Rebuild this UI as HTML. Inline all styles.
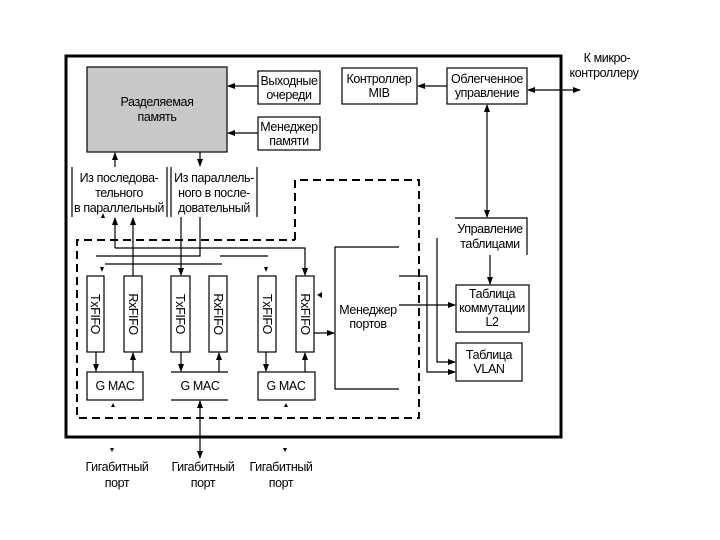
<!DOCTYPE html>
<html><head><meta charset="utf-8"><style>
html,body{margin:0;padding:0;background:#fff;}
svg{display:block;}
text{font-family:"Liberation Sans Narrow","Liberation Sans",sans-serif;font-size:12.5px;letter-spacing:-0.4px;fill:#000;text-anchor:middle;}
</style></head><body>
<svg width="720" height="540" viewBox="0 0 720 540" xmlns="http://www.w3.org/2000/svg">
<defs>
<marker id="a" markerWidth="8" markerHeight="6" refX="7" refY="3" orient="auto" markerUnits="userSpaceOnUse"><path d="M0,0 L8,3 L0,6z" fill="#000"/></marker>
<marker id="s" markerWidth="8" markerHeight="6" refX="1" refY="3" orient="auto" markerUnits="userSpaceOnUse"><path d="M8,0 L0,3 L8,6z" fill="#000"/></marker>
</defs>
<g fill="none" stroke="#000" stroke-width="1.2">
<rect x="66" y="56" width="495" height="381" stroke-width="3"/>
<rect x="87" y="67" width="140" height="85" fill="#c8c8c8"/>
<rect x="258" y="71" width="62" height="33"/>
<rect x="258" y="117" width="62" height="33"/>
<rect x="342" y="68" width="75" height="36"/>
<rect x="447" y="68" width="80" height="36"/>
<rect x="456" y="285" width="73" height="47"/>
<rect x="456" y="343" width="66" height="38"/>
<path d="M295,240 L295,180 L419,180 L419,418 L77,418 L77,240 L295,240" stroke-width="2" stroke-dasharray="8,5"/>
<line x1="258" y1="86" x2="228" y2="86" marker-end="url(#a)"/>
<line x1="258" y1="133" x2="228" y2="133" marker-end="url(#a)"/>
<line x1="447" y1="86" x2="418" y2="86" marker-end="url(#a)"/>
<line x1="528" y1="90" x2="580" y2="90" marker-start="url(#s)" marker-end="url(#a)"/>
<line x1="487" y1="105" x2="487" y2="217" marker-start="url(#s)" marker-end="url(#a)"/>
<path d="M455,218 L527,218 L527,255"/>
<line x1="490" y1="255" x2="490" y2="284" marker-end="url(#a)"/>
<path d="M437,238 L437,362 L455,362" marker-end="url(#a)"/>
<path d="M399,276 L427,276 L427,372 L455,372" marker-end="url(#a)"/>
<line x1="399" y1="305" x2="455" y2="305" marker-end="url(#a)"/>
<path d="M399,247 L335,247 L335,389 L399,389"/>
<line x1="72" y1="167" x2="72" y2="217"/><line x1="167" y1="167" x2="167" y2="217"/>
<line x1="171" y1="167" x2="171" y2="217"/><line x1="257" y1="167" x2="257" y2="217"/>
<line x1="115" y1="167" x2="115" y2="153" marker-end="url(#a)"/>
<line x1="200" y1="152" x2="200" y2="166" marker-end="url(#a)"/>
<line x1="115" y1="248" x2="115" y2="218" marker-end="url(#a)"/>
<path d="M115,248 L305,248 L305,275" marker-end="url(#a)"/>
<line x1="133" y1="276" x2="133" y2="218" marker-end="url(#a)"/>
<line x1="181" y1="217" x2="181" y2="275" marker-end="url(#a)"/>
<path d="M200,217 L200,256 L96,256"/>
<line x1="105" y1="264" x2="222" y2="264"/>
<line x1="220" y1="256" x2="268" y2="256"/>
<rect x="87" y="276" width="17" height="76"/>
<rect x="124" y="276" width="18" height="76"/>
<rect x="171" y="276" width="19" height="76"/>
<rect x="209" y="276" width="18" height="76"/>
<rect x="258" y="276" width="18" height="76"/>
<rect x="296" y="276" width="18" height="76"/>
<rect x="87" y="372" width="56" height="28"/>
<line x1="171" y1="372" x2="228" y2="372"/><line x1="171" y1="400" x2="228" y2="400"/>
<rect x="258" y="372" width="57" height="28"/>
<line x1="96" y1="352" x2="96" y2="371" marker-end="url(#a)"/>
<line x1="133" y1="372" x2="133" y2="353" marker-end="url(#a)"/>
<line x1="181" y1="352" x2="181" y2="371" marker-end="url(#a)"/>
<line x1="219" y1="372" x2="219" y2="353" marker-end="url(#a)"/>
<line x1="266" y1="352" x2="266" y2="371" marker-end="url(#a)"/>
<line x1="305" y1="372" x2="305" y2="353" marker-end="url(#a)"/>
<line x1="314" y1="333" x2="334" y2="333" marker-end="url(#a)"/>
<line x1="200" y1="458" x2="200" y2="401" marker-start="url(#s)" marker-end="url(#a)"/>
</g>
<g fill="#000">
<path d="M100,267 L104,267 L102,272z"/>
<path d="M264,267 L268,267 L266,272z"/>
<path d="M101,218 L105,218 L103,213z"/>
<path d="M111,407 L115,407 L113,403z"/>
<path d="M284,407 L288,407 L286,403z"/>
<path d="M110,448 L114,448 L112,452z"/>
<path d="M283,448 L287,448 L285,452z"/>
<path d="M322,292 L322,298 L317,295z"/>
</g>
<text x="157" y="106">Разделяемая</text><text x="157" y="121">память</text>
<text x="289" y="85">Выходные</text><text x="289" y="99">очереди</text>
<text x="289" y="131">Менеджер</text><text x="289" y="145">памяти</text>
<text x="379" y="83">Контроллер</text><text x="379" y="97">MIB</text>
<text x="487" y="83">Облегченное</text><text x="487" y="97">управление</text>
<text x="607" y="62">К микро-</text><text x="604" y="77">контроллеру</text>
<text x="119" y="182">Из последова-</text><text x="119" y="197">тельного</text><text x="119" y="212">в параллельный</text>
<text x="214" y="182">Из параллель-</text><text x="214" y="197">ного в после-</text><text x="214" y="212">довательный</text>
<text x="490" y="233">Управление</text><text x="490" y="248">таблицами</text>
<text x="492" y="298">Таблица</text><text x="492" y="312">коммутации</text><text x="492" y="326">L2</text>
<text x="489" y="359">Таблица</text><text x="489" y="373">VLAN</text>
<text x="368" y="314">Менеджер</text><text x="368" y="328">портов</text>
<text x="115" y="390">G MAC</text><text x="200" y="390">G MAC</text><text x="286" y="390">G MAC</text>
<g>
<text transform="translate(91,314) rotate(90)">TxFIFO</text>
<text transform="translate(129,314) rotate(90)">RxFIFO</text>
<text transform="translate(176,314) rotate(90)">TxFIFO</text>
<text transform="translate(214,314) rotate(90)">RxFIFO</text>
<text transform="translate(263,314) rotate(90)">TxFIFO</text>
<text transform="translate(301,314) rotate(90)">RxFIFO</text>
</g>
<text x="117" y="471">Гигабитный</text><text x="117" y="487">порт</text>
<text x="203" y="471">Гигабитный</text><text x="203" y="487">порт</text>
<text x="281" y="471">Гигабитный</text><text x="281" y="487">порт</text>
</svg>
</body></html>
